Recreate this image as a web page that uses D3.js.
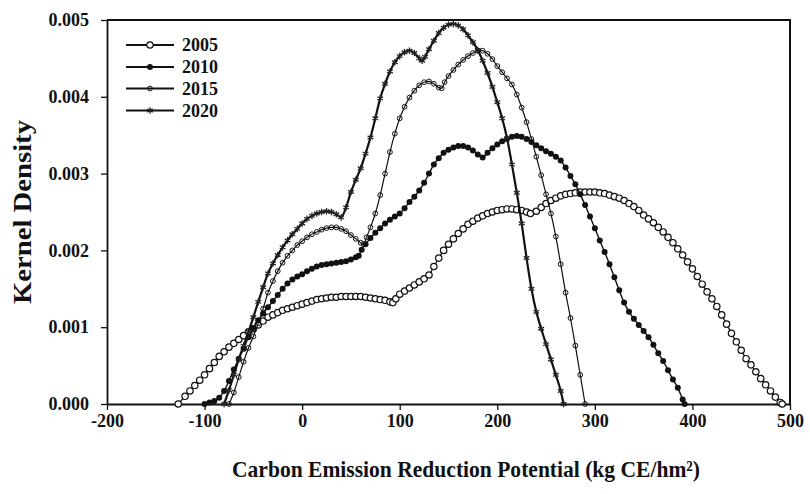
<!DOCTYPE html>
<html>
<head>
<meta charset="utf-8">
<script src="https://cdn.jsdelivr.net/npm/d3@7"></script>
<style>
  html, body { margin: 0; padding: 0; background: #fff; }
  svg { display: block; }
</style>
</head>
<body>
<svg id="chart" width="810" height="494"></svg>
<script>
// Density values are in units of 1e-3 (0.001)
const seriesNames = ["2005", "2010", "2015", "2020"];

const d2005 = [[-127,0],[-120,0.10],[-115,0.17],[-110,0.24],[-105,0.31],[-100,0.38],[-95,0.46],[-90,0.54],[-85,0.62],[-80,0.68],[-75,0.74],[-70,0.79],[-65,0.84],[-60,0.89],[-55,0.94],[-50,0.98],[-45,1.03],[-40,1.08],[-35,1.13],[-30,1.16],[-25,1.19],[-20,1.22],[-15,1.24],[-10,1.26],[-5,1.28],[0,1.30],[5,1.32],[10,1.34],[15,1.36],[20,1.37],[25,1.38],[30,1.39],[35,1.39],[40,1.40],[45,1.40],[50,1.40],[55,1.40],[60,1.40],[65,1.39],[70,1.38],[75,1.37],[80,1.36],[85,1.35],[90,1.33],[93,1.32],[96,1.37],[100,1.43],[105,1.47],[110,1.51],[115,1.55],[120,1.59],[125,1.63],[130,1.68],[135,1.79],[140,1.90],[145,2.00],[150,2.08],[155,2.15],[160,2.22],[165,2.28],[170,2.34],[175,2.38],[180,2.42],[185,2.45],[190,2.48],[195,2.50],[200,2.52],[205,2.53],[210,2.54],[215,2.54],[220,2.53],[225,2.52],[230,2.50],[234,2.48],[240,2.51],[245,2.56],[250,2.61],[255,2.65],[260,2.68],[265,2.71],[270,2.73],[275,2.74],[280,2.75],[285,2.76],[290,2.76],[295,2.76],[300,2.76],[305,2.75],[310,2.74],[315,2.72],[320,2.70],[325,2.68],[330,2.65],[335,2.61],[340,2.57],[345,2.52],[350,2.46],[355,2.41],[360,2.36],[365,2.30],[370,2.24],[375,2.17],[380,2.10],[385,2.02],[390,1.94],[395,1.85],[400,1.76],[405,1.66],[410,1.56],[415,1.46],[420,1.37],[425,1.27],[430,1.16],[435,1.04],[440,0.92],[445,0.81],[450,0.70],[455,0.59],[460,0.51],[465,0.42],[470,0.33],[475,0.25],[480,0.17],[485,0.09],[490,0.02],[492,0]];

const d2010 = [[-100,0],[-95,0.02],[-90,0.04],[-85,0.08],[-80,0.17],[-75,0.30],[-70,0.45],[-65,0.59],[-60,0.72],[-55,0.87],[-50,0.99],[-45,1.09],[-40,1.18],[-35,1.26],[-30,1.34],[-25,1.42],[-20,1.50],[-15,1.57],[-10,1.62],[-5,1.66],[0,1.69],[5,1.73],[10,1.76],[15,1.79],[20,1.81],[25,1.82],[30,1.83],[35,1.84],[40,1.85],[45,1.86],[50,1.88],[55,1.91],[58,1.93],[61,2.01],[65,2.08],[70,2.16],[75,2.23],[80,2.29],[85,2.35],[90,2.40],[95,2.44],[100,2.48],[105,2.55],[110,2.63],[115,2.70],[120,2.78],[125,2.88],[130,3.00],[135,3.12],[140,3.20],[145,3.27],[150,3.31],[155,3.34],[160,3.36],[165,3.36],[170,3.34],[175,3.30],[180,3.25],[185,3.21],[190,3.27],[195,3.33],[200,3.38],[205,3.42],[210,3.45],[215,3.48],[220,3.49],[225,3.48],[230,3.45],[235,3.41],[240,3.37],[245,3.33],[250,3.29],[255,3.26],[260,3.22],[265,3.17],[270,3.08],[275,2.97],[280,2.86],[285,2.73],[290,2.59],[295,2.44],[300,2.29],[305,2.13],[310,1.98],[315,1.82],[320,1.65],[325,1.48],[330,1.32],[335,1.20],[340,1.11],[345,1.03],[350,0.95],[355,0.87],[360,0.77],[365,0.66],[370,0.56],[375,0.44],[380,0.32],[385,0.21],[390,0.06],[392,0]];

const d2015 = [[-75,0],[-70,0.15],[-65,0.35],[-60,0.55],[-55,0.73],[-50,0.88],[-45,1.05],[-40,1.24],[-35,1.45],[-30,1.60],[-25,1.73],[-20,1.84],[-15,1.93],[-10,2.00],[-5,2.07],[0,2.12],[5,2.17],[10,2.21],[15,2.24],[20,2.27],[25,2.29],[30,2.30],[35,2.30],[40,2.28],[45,2.25],[50,2.20],[55,2.15],[60,2.10],[63,2.08],[66,2.17],[70,2.30],[75,2.48],[80,2.72],[85,3.00],[90,3.28],[95,3.52],[100,3.72],[105,3.87],[110,3.99],[115,4.08],[120,4.15],[125,4.19],[130,4.20],[135,4.17],[140,4.12],[143,4.11],[146,4.19],[150,4.27],[155,4.35],[160,4.42],[165,4.48],[170,4.53],[175,4.57],[180,4.60],[185,4.60],[190,4.56],[195,4.49],[200,4.40],[205,4.32],[210,4.24],[215,4.16],[220,4.03],[225,3.86],[230,3.67],[235,3.45],[240,3.22],[245,2.98],[250,2.73],[255,2.48],[260,2.18],[265,1.82],[270,1.45],[275,1.12],[280,0.76],[285,0.38],[290,0]];

const d2020 = [[-80,0],[-75,0.18],[-70,0.38],[-65,0.58],[-60,0.76],[-55,0.94],[-50,1.13],[-45,1.33],[-40,1.52],[-35,1.70],[-30,1.83],[-25,1.94],[-20,2.04],[-15,2.13],[-10,2.21],[-5,2.28],[0,2.35],[5,2.41],[10,2.45],[15,2.48],[20,2.50],[25,2.51],[30,2.50],[35,2.47],[40,2.43],[45,2.56],[50,2.76],[55,2.92],[60,3.07],[65,3.26],[70,3.47],[75,3.72],[80,3.98],[85,4.17],[90,4.33],[95,4.45],[100,4.53],[105,4.58],[110,4.60],[115,4.57],[120,4.50],[123,4.47],[126,4.52],[130,4.62],[135,4.73],[140,4.83],[145,4.90],[150,4.94],[155,4.95],[160,4.93],[165,4.88],[170,4.80],[175,4.71],[180,4.61],[185,4.47],[190,4.31],[195,4.13],[200,3.93],[205,3.72],[210,3.46],[215,3.12],[220,2.75],[225,2.35],[230,1.90],[235,1.50],[240,1.20],[245,0.98],[250,0.78],[255,0.58],[260,0.38],[265,0.17],[268,0]];

const xTicks = [-200, -100, 0, 100, 200, 300, 400, 500];
const yTicks = [0, 1, 2, 3, 4, 5];
const yTickLabels = ["0.000", "0.001", "0.002", "0.003", "0.004", "0.005"];
const xTitle = "Carbon Emission Reduction Potential (kg CE/hm\u00B2)";
const yTitle = "Kernel Density";

const svg = d3.select("#chart");
const serif = "'Liberation Serif', 'Times New Roman', serif";

const x = d3.scaleLinear().domain([-200, 500]).range([107, 790]);
const y = d3.scaleLinear().domain([0, 5]).range([404, 20]);

// frame (top & right)
svg.append("path")
  .attr("d", `M${x(-200)},${y(5)}H${x(500)}V${y(0)}`)
  .attr("fill", "none").attr("stroke", "#111").attr("stroke-width", 2);

// axes
const xAxis = svg.append("g").attr("transform", `translate(0,${y(0)})`)
  .call(d3.axisBottom(x).tickValues(xTicks).tickSize(6).tickSizeOuter(0).tickPadding(4).tickFormat(d => d));
const yAxis = svg.append("g").attr("transform", `translate(${x(-200)},0)`)
  .call(d3.axisLeft(y).tickValues(yTicks).tickSize(6).tickSizeOuter(0).tickPadding(12).tickFormat((d, i) => yTickLabels[i]));

[xAxis, yAxis].forEach(g => {
  g.select(".domain").attr("stroke", "#111").attr("stroke-width", 1.8);
  g.selectAll(".tick line").attr("stroke", "#111").attr("stroke-width", 1.3);
  g.selectAll(".tick text").attr("fill", "#111").attr("font-family", serif)
    .attr("font-size", 18).attr("font-weight", "bold");
});

// titles
svg.append("text").attr("x", 466).attr("y", 477).attr("text-anchor", "middle")
  .attr("font-family", serif).attr("font-weight", "bold").attr("font-size", 23).attr("fill", "#111")
  .attr("textLength", 468).attr("lengthAdjust", "spacingAndGlyphs")
  .text(xTitle);
svg.append("text").attr("transform", `translate(31,212) rotate(-90)`).attr("text-anchor", "middle")
  .attr("font-family", serif).attr("font-weight", "bold").attr("font-size", 25).attr("fill", "#111")
  .attr("textLength", 184).attr("lengthAdjust", "spacingAndGlyphs")
  .text(yTitle);

const line = d3.line().x(d => x(d[0])).y(d => y(d[1])).curve(d3.curveMonotoneX);

const asterisk = d3.symbolAsterisk || d3.symbolCross;
const styles = {
  "2005": { data: d2005, lw: 1.3, draw: (sel) => sel.append("circle").attr("r", 3.2).attr("fill", "#fff").attr("stroke", "#111").attr("stroke-width", 1.2) },
  "2010": { data: d2010, lw: 1.4, draw: (sel) => sel.append("circle").attr("r", 3).attr("fill", "#111") },
  "2015": { data: d2015, lw: 1.2, draw: (sel) => sel.append("circle").attr("r", 2.4).attr("fill", "none").attr("stroke", "#111").attr("stroke-width", 1) },
  "2020": { data: d2020, lw: 2.2, draw: (sel) => sel.append("path").attr("d", d3.symbol().type(asterisk).size(30)()).attr("fill", "none").attr("stroke", "#222").attr("stroke-width", 1.3) }
};

seriesNames.forEach(name => {
  const s = styles[name];
  const g = svg.append("g").attr("class", "series-" + name);
  g.append("path").datum(s.data).attr("d", line).attr("fill", "none")
    .attr("stroke", "#111").attr("stroke-width", s.lw);
  const pts = g.selectAll("g.pt").data(s.data).join("g").attr("class", "pt")
    .attr("transform", d => `translate(${x(d[0])},${y(d[1])})`);
  s.draw(pts);
});

// legend
const leg = svg.append("g");
const legY = [45, 67, 88.5, 110.5];
seriesNames.forEach((name, i) => {
  const s = styles[name];
  const row = leg.append("g").attr("transform", `translate(0,${legY[i]})`);
  row.append("line").attr("x1", 126).attr("x2", 174).attr("y1", 0).attr("y2", 0)
    .attr("stroke", "#111").attr("stroke-width", 1.8);
  const m = row.append("g").attr("transform", "translate(150,0)");
  s.draw(m);
  row.append("text").attr("x", 182).attr("y", 0).attr("dy", "0.35em")
    .attr("font-family", serif).attr("font-size", 18).attr("font-weight", "bold").attr("fill", "#111")
    .text(name);
});
</script>
</body>
</html>
